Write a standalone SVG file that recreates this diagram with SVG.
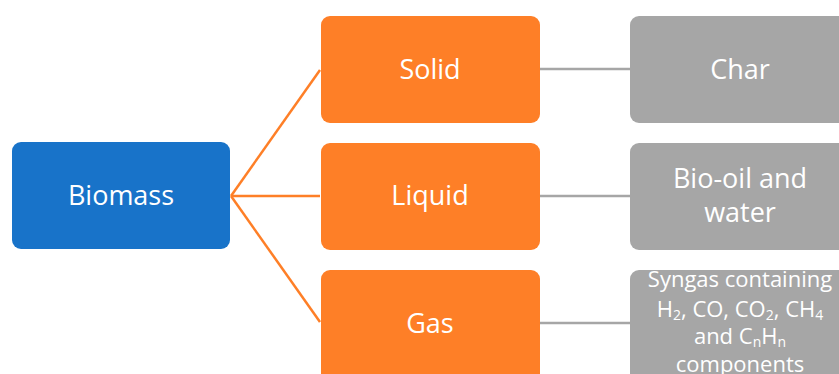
<svg xmlns="http://www.w3.org/2000/svg" width="839" height="374" viewBox="0 0 839 374">
<style>
.box{stroke:none}
.blue{fill:#1873c9}
.orange{fill:#fe7f27}
.gray{fill:#a6a6a6}
.t{font-family:"Open Sans","Noto Sans",sans-serif;fill:#ffffff;text-anchor:middle}
.big{font-size:27px}
.small{font-size:22px}
.sub{font-size:14px}
.oc{stroke:#fe7f27;stroke-width:2.5;fill:none}
.gc{stroke:#a6a6a6;stroke-width:2.5;fill:none}
</style>
<rect width="839" height="374" fill="#ffffff"/>
<g id="connectors">
<line class="oc" x1="231" y1="196" x2="320" y2="70"/>
<line class="oc" x1="231" y1="196" x2="320" y2="196"/>
<line class="oc" x1="231" y1="196" x2="320" y2="322"/>
<line class="gc" x1="540" y1="69" x2="630" y2="69"/>
<line class="gc" x1="540" y1="196" x2="630" y2="196"/>
<line class="gc" x1="540" y1="323" x2="630" y2="323"/>
</g>
<g id="biomass">
<rect class="box blue" x="12" y="142" width="218" height="107" rx="9"/>
<text class="t big" x="121" y="205">Biomass</text>
</g>
<g id="solid">
<rect class="box orange" x="321" y="16" width="219" height="107" rx="9"/>
<text class="t big" x="430" y="79">Solid</text>
</g>
<g id="liquid">
<rect class="box orange" x="321" y="143" width="219" height="107" rx="9"/>
<text class="t big" x="430" y="205">Liquid</text>
</g>
<g id="gas">
<rect class="box orange" x="321" y="270" width="219" height="114" rx="9"/>
<text class="t big" x="430" y="333">Gas</text>
</g>
<g id="char">
<rect class="box gray" x="630" y="16" width="220" height="107" rx="9"/>
<text class="t big" x="740" y="79">Char</text>
</g>
<g id="biooil">
<rect class="box gray" x="630" y="143" width="220" height="107" rx="9"/>
<text class="t big" x="740" y="188">Bio-oil and</text>
<text class="t big" x="740" y="222">water</text>
</g>
<g id="syngas">
<rect class="box gray" x="630" y="270" width="220" height="114" rx="9"/>
<text class="t small" x="740" y="287">Syngas containing</text>
<text class="t small" x="740" y="317">H<tspan class="sub" dy="3">2</tspan><tspan dy="-3">, CO, CO</tspan><tspan class="sub" dy="3">2</tspan><tspan dy="-3">, CH</tspan><tspan class="sub" dy="3">4</tspan></text>
<text class="t small" x="740" y="344">and C<tspan class="sub" dy="3">n</tspan><tspan dy="-3">H</tspan><tspan class="sub" dy="3">n</tspan></text>
<text class="t small" x="740" y="372">components</text>
</g>
</svg>
